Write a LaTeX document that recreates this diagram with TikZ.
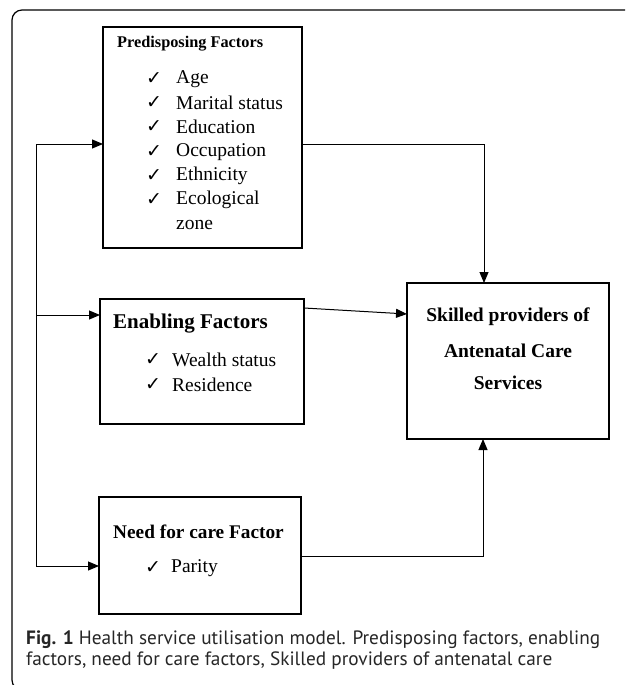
\documentclass[tikz,border=0pt]{standalone}
\usepackage{fontspec}
\setmainfont{Liberation Serif}
\newfontfamily\capfont{PT Sans}
\newfontfamily\tickfont{DejaVu Sans}
\usetikzlibrary{arrows.meta}
\begin{document}
\begin{tikzpicture}[x=1pt,y=-1pt,
  box/.style={draw, line width=1.4pt, inner sep=0pt, outer sep=0pt, anchor=north west},
  txt/.style={anchor=west, inner sep=0pt, font=\fontsize{19.5}{20}\selectfont},
  tick/.style={anchor=west, inner sep=0pt, font=\tickfont\fontsize{19}{19}\selectfont},
  conn/.style={line width=1pt},
  arr/.style={line width=1pt, -{Triangle[length=11pt,width=9pt]}},
  capt/.style={anchor=west, inner sep=0pt, font=\capfont\fontsize{19.3}{20}\selectfont, text=black!85}
]
\useasboundingbox (0,0) rectangle (625,685);
\clip (0,0) rectangle (625,685);
% outer frame
\draw[line width=1.2pt, rounded corners=10pt] (640,10) -- (12,10) -- (12,690) -- (40,690);

% boxes
\node[box, minimum width=199pt, minimum height=221pt] (pre) at (103,27) {};
\node[box, minimum width=204pt, minimum height=125pt] (ena) at (100,299) {};
\node[box, minimum width=202pt, minimum height=117pt] (need) at (99,497) {};
\node[box, minimum width=202pt, minimum height=156pt] (sk) at (407,283) {};

% predisposing text
\node[txt, font=\bfseries\fontsize{16.3}{17}\selectfont] (pt) at (117,44) {Predisposing Factors};
\foreach \y/\t/\n in {79/Age/a,103/Marital status/b,127/Education/c,152/Occupation/d,176/Ethnicity/e,200/Ecological/f}{
  \node[tick] (pc\n) at (146,\y) {✓};
  \node[txt] (pi\n) at (176,\y) {\t};
}
\node[txt] (pig) at (176,225) {zone};

% enabling text
\node[txt, font=\bfseries\fontsize{21}{22}\selectfont] (et) at (113,324) {Enabling Factors};
\node[tick] (ec1) at (145,360) {✓};
\node[txt] (ei1) at (172,360) {Wealth status};
\node[tick] (ec2) at (145,385) {✓};
\node[txt] (ei2) at (172,385) {Residence};

% need text
\node[txt, font=\bfseries\fontsize{19.3}{20}\selectfont] (nt) at (113,532) {Need for care Factor};
\node[tick] (nc1) at (145,568) {✓};
\node[txt] (ni1) at (171,568) {Parity};

% skilled text
\node[txt, anchor=center, font=\bfseries\fontsize{19.5}{20}\selectfont] (s1) at (508,317) {Skilled providers of};
\node[txt, anchor=center, font=\bfseries\fontsize{19.5}{20}\selectfont] (s2) at (508,351) {Antenatal Care};
\node[txt, anchor=center, font=\bfseries\fontsize{19.5}{20}\selectfont] (s3) at (508,383) {Services};

% left feed line
\coordinate (vtop) at (36,144);
\coordinate (vmid) at (36,315);
\coordinate (vbot) at (36,566);
\draw[conn] (vtop) -- (vbot);
\draw[arr] (vtop) -- (pre.west |- vtop);
\draw[arr] (vmid) -- (ena.west |- vmid);
\draw[arr] (vbot) -- (need.west |- vbot);

% connectors into skilled box
\draw[arr] (pre.east |- 0,144) -- (484,144) -- (sk.north -| 484,0);
\draw[arr] (ena.east |- 0,308) -- (sk.west |- 0,314);
\draw[arr] (need.east |- 0,556) -- (483,556) -- (sk.south -| 483,0);

% caption
\node[capt] (c1) at (26,640) {\textbf{Fig. 1} Health service utilisation model. Predisposing factors, enabling};
\node[capt] (c2) at (26,661) {factors, need for care factors, Skilled providers of antenatal care};
\end{tikzpicture}
\end{document}
